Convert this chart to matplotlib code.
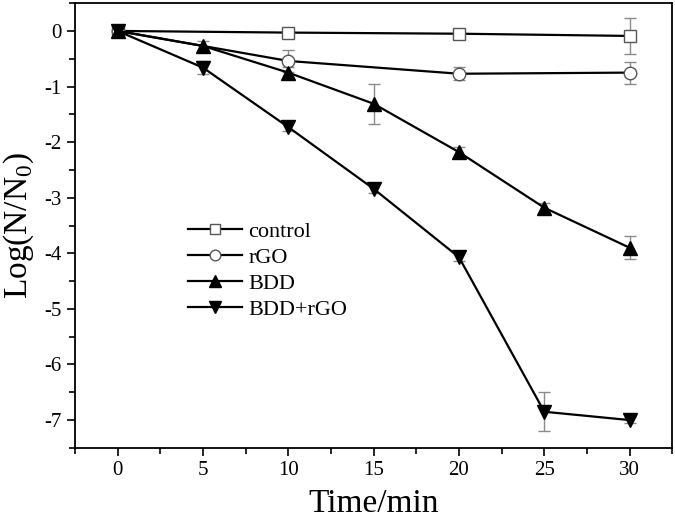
import matplotlib
matplotlib.use("Agg")
import matplotlib.pyplot as plt
from matplotlib.ticker import MultipleLocator

plt.rcParams['font.family'] = 'Liberation Serif'
plt.rcParams['mathtext.fontset'] = 'custom'
plt.rcParams['mathtext.rm'] = 'Liberation Serif'
plt.rcParams['axes.unicode_minus'] = False

time = [0, 5, 10, 15, 20, 25, 30]

control_x = [0, 10, 20, 30]
control = [0, -0.03, -0.05, -0.09]
control_err = [0.03, 0.04, 0.05, 0.32]

rgo_x = [0, 10, 20, 30]
rgo = [0, -0.54, -0.77, -0.75]
rgo_err = [0.03, 0.2, 0.12, 0.2]

bdd = [0, -0.27, -0.75, -1.31, -2.18, -3.18, -3.9]
bdd_err = [0.03, 0.08, 0.1, 0.36, 0.1, 0.08, 0.21]

bdd_rgo = [0, -0.66, -1.73, -2.84, -4.07, -6.85, -7.0]
bdd_rgo_err = [0.03, 0.12, 0.07, 0.08, 0.07, 0.35, 0.05]

fig = plt.figure(figsize=(6.75, 5.22), dpi=100)
ax = fig.add_axes([0.111, 0.142, 0.885, 0.852])

series = [
    (control_x, control, control_err, 's', 'white', 'control', 8),
    (rgo_x, rgo, rgo_err, 'o', 'white', 'rGO', 9),
    (time, bdd, bdd_err, '^', 'black', 'BDD', 10),
    (time, bdd_rgo, bdd_rgo_err, 'v', 'black', 'BDD+rGO', 10),
]

for x, y, e, m, fc, lab, ms in series:
    ax.errorbar(x, y, yerr=e, fmt='none', ecolor='#8a8a8a', elinewidth=1,
                capsize=4, capthick=1, zorder=2)
    mec = '#555555' if fc == 'white' else 'black'
    ax.plot(x, y, color='black', lw=1.6, marker=m, ms=ms, mfc=fc, mec=mec,
            mew=1.0, label=lab, zorder=3)

ax.set_xlim(-2.5, 32.5)
ax.set_ylim(-7.5, 0.5)
ax.xaxis.set_major_locator(MultipleLocator(5))
ax.xaxis.set_minor_locator(MultipleLocator(2.5))
ax.yaxis.set_major_locator(MultipleLocator(1))
ax.yaxis.set_minor_locator(MultipleLocator(0.5))
ax.tick_params(which='both', direction='out', width=1.2, labelsize=15, top=False, right=False)
ax.tick_params(which='major', length=6)
ax.tick_params(which='minor', length=4)
for s in ax.spines.values():
    s.set_linewidth(1.3)

ax.set_xlabel('Time/min', fontsize=24, labelpad=6)
ax.set_ylabel(r'Log(N/N$_{0}$)', fontsize=24, labelpad=6)

ax.legend(loc='upper left', bbox_to_anchor=(0.175, 0.53), frameon=False, fontsize=16,
          handlelength=2.4, handletextpad=0.3, labelspacing=0.25, borderaxespad=0,
          markerscale=0.85)

fig.savefig('out.png', dpi=100)
